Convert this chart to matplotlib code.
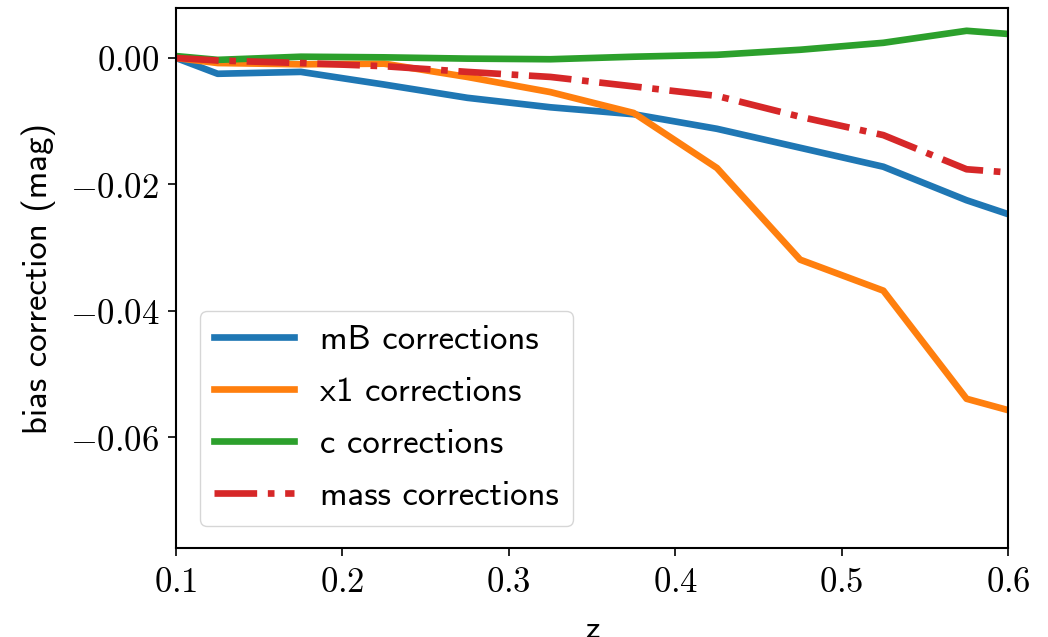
import matplotlib
matplotlib.use('Agg')
import matplotlib.pyplot as plt
from matplotlib.ticker import FormatStrFormatter
import numpy as np

plt.rcParams['mathtext.fontset'] = 'cm'
plt.rcParams['axes.unicode_minus'] = True

# redshift bins
z = [0.1, 0.125, 0.175, 0.225, 0.275, 0.325, 0.375, 0.425, 0.475, 0.525, 0.575, 0.6]

# bias corrections per parameter (mag)
mB_corr = [0.0, -0.0025, -0.0022, -0.0042, -0.0063, -0.0078, -0.0089, -0.0112,
           -0.0142, -0.0172, -0.0225, -0.0247]
x1_corr = [0.0, -0.0008, -0.0010, -0.0009, -0.0030, -0.0054, -0.0087, -0.0174,
           -0.0319, -0.0368, -0.0539, -0.0557]
c_corr = [0.0003, -0.0003, 0.0002, 0.0001, -0.0001, -0.0002, 0.0002, 0.0005,
          0.0013, 0.0024, 0.0043, 0.0038]
mass_corr = [0.0, -0.0004, -0.0008, -0.0013, -0.0022, -0.0030, -0.0045, -0.0060,
             -0.0093, -0.0122, -0.0176, -0.0181]

labels = ['mB corrections', 'x1 corrections', 'c corrections', 'mass corrections']

fig = plt.figure(figsize=(10.48, 6.37), dpi=100)
ax = fig.add_axes([0.168, 0.1397, 0.794, 0.8477])

lw = 4.8
ax.plot(z, mB_corr, color='#1f77b4', lw=lw, label=labels[0])
ax.plot(z, x1_corr, color='#ff7f0e', lw=lw, label=labels[1])
ax.plot(z, c_corr, color='#2ca02c', lw=lw, label=labels[2])
ax.plot(z, mass_corr, color='#d62728', lw=lw, ls='-.', label=labels[3])

ax.set_xlim(0.1, 0.6)
ax.set_ylim(-0.0775, 0.0079)
ax.set_xticks([0.1, 0.2, 0.3, 0.4, 0.5, 0.6])
ax.set_yticks([0.0, -0.02, -0.04, -0.06])
ax.xaxis.set_major_formatter(FormatStrFormatter(r'$%.1f$'))
ax.yaxis.set_major_formatter(FormatStrFormatter(r'$%.2f$'))
ax.tick_params(labelsize=25, length=6, width=1.2, pad=6)
for s in ax.spines.values():
    s.set_linewidth(1.5)

ax.set_xlabel('z', family='cmss10', fontsize=24, labelpad=12)
ax.set_ylabel('bias correction (mag)', family='cmss10', fontsize=25, labelpad=10)

ax.legend(loc='lower left', prop={'family': 'cmss10', 'size': 25},
          handlelength=2.3, borderpad=0.4, labelspacing=0.6, handletextpad=0.75,
          bbox_to_anchor=(0.008, 0.008))

plt.savefig('out.png', dpi=100)
